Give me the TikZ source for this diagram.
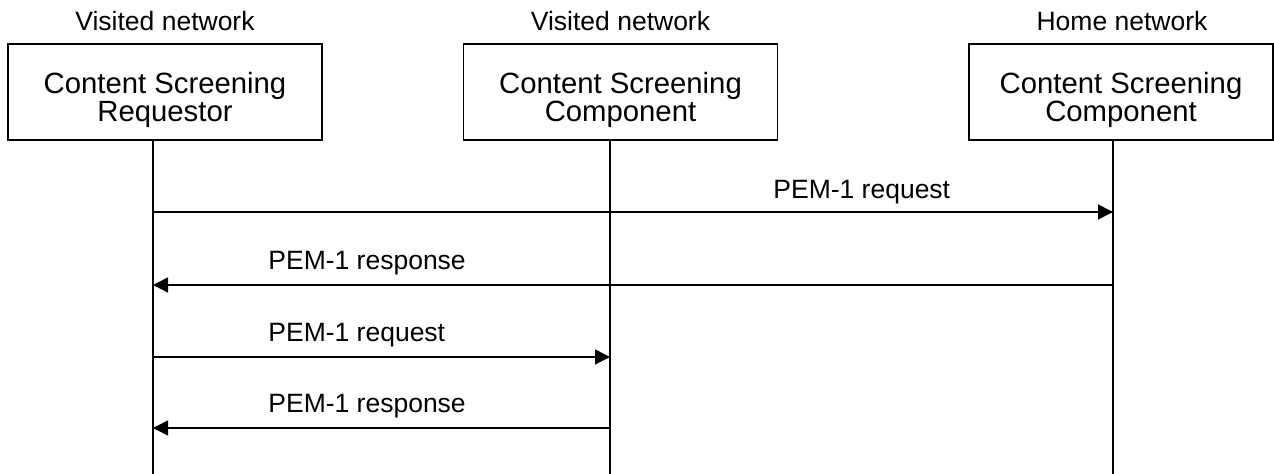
\documentclass[tikz,border=0pt]{standalone}
\usepackage{fontspec}
\setmainfont{Liberation Sans}
\usetikzlibrary{arrows.meta}

\newcommand{\boxstrut}{\rule{0pt}{18.5pt}}

\tikzset{
  entity/.style={draw, line width=0.6pt, minimum width=157pt, minimum height=48pt,
    align=center, inner sep=0pt, font=\fontsize{14.65}{13}\selectfont},
  netlabel/.style={anchor=base, inner sep=0pt, font=\fontsize{13.25}{15}\selectfont},
  msglabel/.style={anchor=base west, inner sep=0pt, font=\fontsize{13.25}{15}\selectfont},
  lifeline/.style={line width=0.8pt},
  msg/.style={line width=0.7pt, -{Triangle[length=7.5pt,width=7.5pt]}}
}

\begin{document}
\begin{tikzpicture}[x=0.5pt, y=-0.5pt]
    \useasboundingbox (0,0) rectangle (1274,474);
    % the three parties
    \node[entity] (req) at (165,92) {\boxstrut Content Screening\\Requestor};
    \node[entity] (vcomp) at (620.5,92) {\boxstrut Content Screening\\Component};
    \node[entity, minimum width=152pt] (hcomp) at (1121,92) {\boxstrut Content Screening\\Component};
    \node[netlabel] (reqnet) at (165,31) {Visited network};
    \node[netlabel] (vnet) at (620.5,31) {Visited network};
    \node[netlabel] (hnet) at (1122,31) {Home network};
    % lifelines
    \coordinate (rl) at (153,474);
    \coordinate (vl) at (610,474);
    \coordinate (hl) at (1113,474);
    \draw[lifeline] (req.south -| rl) -- (rl);
    \draw[lifeline] (vcomp.south -| vl) -- (vl);
    \draw[lifeline] (hcomp.south -| hl) -- (hl);
    % message rows
    \coordinate (m1) at (0,212);
    \coordinate (m2) at (0,285);
    \coordinate (m3) at (0,357);
    \coordinate (m4) at (0,428);
    \draw[msg] (rl |- m1) -- (hl |- m1);
    \node[msglabel] (l1) at (773,199) {PEM-1 request};
    \draw[msg] (hl |- m2) -- (rl |- m2);
    \node[msglabel] (l2) at (268,270) {PEM-1 response};
    \draw[msg] (rl |- m3) -- (vl |- m3);
    \node[msglabel] (l3) at (268,342) {PEM-1 request};
    \draw[msg] (vl |- m4) -- (rl |- m4);
    \node[msglabel] (l4) at (268,413) {PEM-1 response};
\end{tikzpicture}
\end{document}
